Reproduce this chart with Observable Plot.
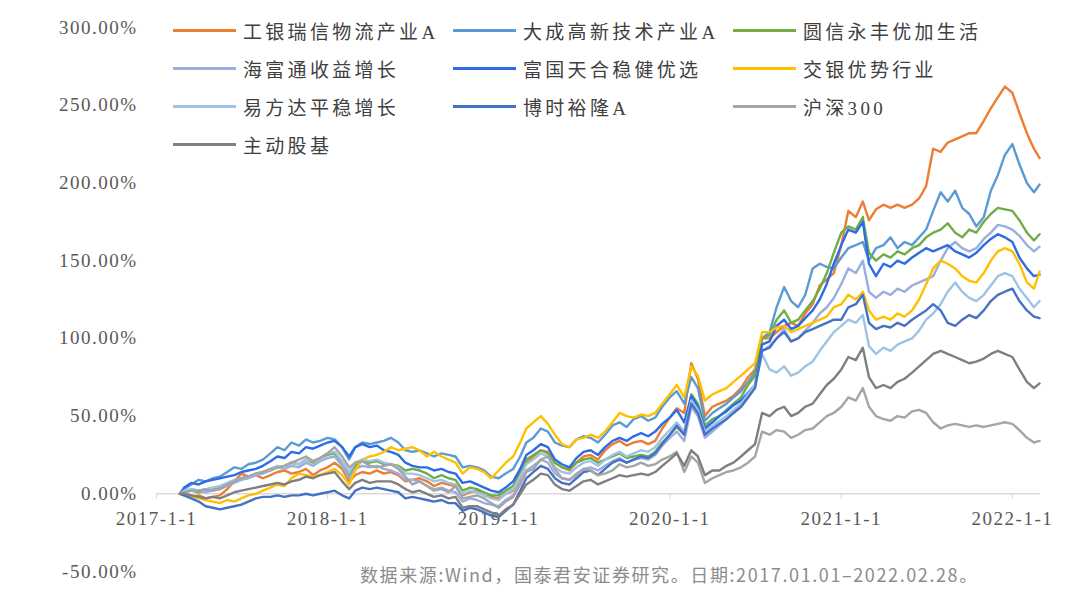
<!DOCTYPE html>
<html><head><meta charset="utf-8">
<script src="https://cdn.jsdelivr.net/npm/d3@7"></script>
<script src="https://cdn.jsdelivr.net/npm/@observablehq/plot@0.6"></script>
<style>
html,body{margin:0;padding:0;background:#fff;}
#wrap{position:relative;width:1080px;height:598px;overflow:hidden;background:#fff;}
#wrap svg{position:absolute;left:0;top:0;}
.item{position:absolute;height:22px;display:flex;align-items:center;font-family:"Liberation Serif","Noto Sans CJK SC",serif;font-size:19px;letter-spacing:3.3px;color:#404040;white-space:nowrap;}
.swatch{display:inline-block;width:63px;height:3px;margin-right:7px;flex:none;}
#caption{position:absolute;left:360px;top:561px;font-family:"Noto Sans CJK SC",sans-serif;font-size:18px;letter-spacing:1.6px;color:#8c8c8c;white-space:nowrap;}
</style></head>
<body>
<div id="wrap"><div id="caption">数据来源:Wind，国泰君安证券研究。日期:2017.01.01–2022.02.28。</div></div>
<script>
// ---- data ----
const names = ["工银瑞信物流产业A","大成高新技术产业A","圆信永丰优加生活","海富通收益增长","富国天合稳健优选","交银优势行业","易方达平稳增长","博时裕隆A","沪深300","主动股基"];
const colors = ["#ED7D31","#5B9BD5","#70AD47","#9AAEE0","#2E6BE6","#FFC000","#9DC3E6","#4472C4","#A5A5A5","#7F7F7F"];

// semi-monthly observation dates (1st and 16th), start 2017-02-20, end 2022-02-28
const dates = [new Date(Date.UTC(2017,1,20))];
for (let y = 2017; y <= 2022; y++) for (let m = 0; m < 12; m++) for (const d of [1,16]) {
  const t = Date.UTC(y,m,d);
  if (t >= Date.UTC(2017,2,1) && t <= Date.UTC(2022,1,16)) dates.push(new Date(t));
}
dates.push(new Date(Date.UTC(2022,1,28)));

// cumulative returns (%)
const gongyin = [0,-1,-2,-1,-3,-2,-1,3,8,13,11,12,10,12,14,15,13,14,16,12,15,
 17,20,16,8,12,14,13,15,13,14,12,8,9,10,8,5,7,6,5,-1,1,2,-1,-2,
 -3,0,2,10,20,24,28,27,20,17,15,20,24,25,22,28,32,34,31,33,34,32,34,42,
 49,55,52,84,74,50,56,58,60,63,68,75,80,100,100,104,108,110,108,116,122,134,138,142,
 160,182,178,188,176,183,186,184,186,184,186,190,198,222,220,226,228,230,232,232,240,248,255,262,
 258,245,232,222,216];
const dacheng = [0,3,6,9,8,10,11,14,17,16,19,20,22,26,30,28,33,31,35,33,34,
 36,35,30,22,30,33,32,33,34,36,33,28,27,28,26,24,26,25,24,17,18,17,15,11,
 10,13,16,24,33,36,42,40,33,31,30,35,37,36,33,38,44,46,43,48,50,47,49,56,
 62,66,58,75,68,47,52,55,58,62,66,72,78,100,104,120,133,124,120,128,145,148,146,145,
 152,158,160,162,150,158,160,165,158,162,160,165,170,182,194,188,195,184,180,172,178,195,205,218,
 225,212,200,194,199];
const yuanxin = [0,1,2,1,2,3,4,6,8,10,11,13,14,15,17,18,20,19,22,20,23,
 25,26,20,11,18,21,20,21,19,19,18,15,16,15,13,10,12,10,9,2,4,3,1,-1,
 -1,2,5,14,22,25,28,26,20,17,16,20,22,23,20,22,24,26,23,24,25,24,27,33,
 38,43,38,64,58,44,48,50,54,58,62,70,76,100,102,112,118,110,112,118,124,132,142,155,
 168,172,170,178,155,150,154,152,156,154,158,160,165,168,170,174,168,165,170,168,175,180,184,183,
 182,176,168,163,167];
const haifutong = [0,1,3,2,1,2,3,5,7,9,10,12,13,15,17,16,18,17,20,18,21,
 23,24,18,10,16,18,17,18,16,15,13,9,9,8,5,3,4,2,1,-5,-3,-4,-6,-7,
 -8,-4,-1,7,15,18,22,20,13,10,9,13,16,17,15,18,21,23,20,22,23,22,25,31,
 36,40,34,56,50,36,40,44,48,52,56,62,70,92,95,100,106,98,100,105,110,116,120,126,
 135,145,142,150,130,126,130,128,132,130,134,136,138,140,150,158,162,158,156,158,164,168,173,172,
 170,166,160,156,159];
const fuguo = [0,4,7,6,8,9,10,11,12,14,15,16,18,21,24,23,27,26,30,29,31,
 33,34,30,24,30,32,30,31,28,27,25,20,18,17,17,15,16,14,13,7,8,6,4,2,
 1,4,8,16,25,28,32,30,22,19,17,23,27,28,25,30,34,36,34,37,39,37,40,45,
 49,54,46,63,56,42,46,50,53,57,60,65,70,96,98,108,112,106,108,113,118,125,135,148,
 160,170,168,175,148,140,148,146,150,148,152,155,158,156,158,160,156,154,152,155,160,164,167,165,
 162,152,145,140,141];
const jiaoyin = [0,-1,-2,-3,-4,-5,-6,-4,-5,-3,-1,0,2,4,6,5,10,13,12,11,12,
 14,16,12,6,15,22,24,25,27,30,28,29,30,28,24,27,24,22,20,13,17,16,14,10,
 15,20,24,33,42,46,50,45,38,32,30,35,36,38,36,40,46,52,50,49,51,50,52,58,
 64,70,62,82,76,60,64,66,68,72,76,80,84,104,104,107,108,104,106,108,110,112,114,120,
 122,128,125,130,118,112,114,112,116,114,118,125,135,145,150,148,145,140,137,136,142,150,156,158,
 156,148,136,132,143];
const yifangda = [0,2,3,2,3,4,5,7,9,10,11,13,14,16,18,17,20,19,22,21,23,
 26,27,21,14,20,22,21,22,20,19,17,13,13,12,10,8,9,7,6,0,2,1,-1,-3,
 -4,0,3,11,19,22,26,24,17,14,13,17,20,21,18,22,25,27,24,26,28,27,30,36,
 41,46,40,60,54,40,44,47,50,54,58,64,70,90,80,78,82,76,78,82,85,92,98,104,
 108,112,110,115,95,90,94,92,96,98,100,105,112,116,122,130,136,130,126,124,128,134,140,142,
 140,132,126,120,124];
const boshi = [0,-1,-3,-5,-8,-9,-10,-9,-8,-7,-5,-3,-2,-2,-1,-2,-1,-1,0,-1,0,
 1,2,-1,-3,2,4,3,4,3,2,1,-3,-2,-3,-4,-5,-4,-6,-6,-11,-9,-10,-12,-14,
 -15,-11,-7,2,10,14,18,16,10,7,6,10,14,15,12,16,20,22,20,22,24,23,26,32,
 38,44,38,58,52,38,42,45,48,52,56,62,68,92,94,100,104,98,100,104,106,108,110,112,
 112,120,122,128,110,106,108,107,110,108,112,115,118,122,118,110,108,112,115,113,118,124,128,130,
 132,124,118,114,113];
const hs300 = [0,1,2,2,3,2,3,6,8,10,11,13,14,16,17,18,20,22,24,21,23,
 26,30,24,17,20,21,18,17,18,19,16,11,6,8,5,2,3,1,5,-3,-2,-1,-3,-6,
 -9,-5,-2,6,14,16,22,24,16,10,9,12,16,15,12,13,15,19,17,18,20,18,19,22,
 24,27,14,24,20,7,10,12,14,15,17,20,24,40,38,41,40,36,38,41,42,46,50,52,
 56,62,60,68,56,50,48,47,50,49,53,54,52,46,42,44,45,44,43,44,43,44,45,46,
 45,41,36,33,34];
const zhudong = [0,0,-1,-2,-3,-2,-3,-1,1,2,3,4,5,6,7,6,8,9,11,10,12,
 13,14,8,3,7,9,7,8,8,8,6,3,1,2,0,-2,-1,-3,-2,-9,-8,-8,-10,-12,
 -14,-10,-7,0,6,9,13,12,6,3,2,5,8,9,6,8,10,12,11,12,13,12,14,18,
 22,26,18,28,24,12,15,15,18,20,24,28,32,52,50,54,56,50,52,56,58,64,70,74,
 80,88,86,94,75,68,70,68,72,74,78,82,86,90,92,90,88,86,84,85,87,90,92,90,
 88,80,72,68,71];

const seriesValues = [gongyin, dacheng, yuanxin, haifutong, fuguo, jiaoyin, yifangda, boshi, hs300, zhudong];
const yTicks = [-50, 0, 50, 100, 150, 200, 250, 300];
const xTicks = [2017, 2018, 2019, 2020, 2021, 2022].map(y => new Date(Date.UTC(y,0,1)));
const xTickLabels = ["2017-1-1","2018-1-1","2019-1-1","2020-1-1","2021-1-1","2022-1-1"];

// ---- table for Plot ----
const rows = [];
names.forEach((n, k) => seriesValues[k].forEach((v, i) => rows.push({name: n, date: dates[i], value: v})));

const chart = Plot.plot({
  width: 1080, height: 598,
  marginLeft: 156, marginRight: 40, marginTop: 27, marginBottom: 27,
  style: {fontFamily: '"Liberation Serif", serif', fontSize: "19px", color: "#595959", background: "transparent", letterSpacing: "1.5px"},
  x: {type: "utc", domain: [new Date(Date.UTC(2017,0,1)), new Date(Date.UTC(2022,2,2))]},
  y: {domain: [-50, 300]},
  color: {domain: names, range: colors},
  marks: [
    Plot.ruleY([0], {stroke: "#d9d9d9", strokeWidth: 1.5}),
    Plot.axisY({ticks: yTicks, tickSize: 0, tickPadding: 19, tickFormat: d => d.toFixed(2) + "%", label: null, fill: "#595959"}),
    Plot.axisX({ticks: xTicks, tickFormat: d => xTickLabels[xTicks.findIndex(t => +t === +d)], tickSize: 6, tickPadding: 12, dy: -78, stroke: "#d9d9d9", fill: "#595959", label: null}),
    Plot.line(rows, {x: "date", y: "value", z: "name", stroke: "name", strokeWidth: 2.4, strokeLinejoin: "round"})
  ]
});
const wrap = document.getElementById("wrap");
wrap.insertBefore(chart, wrap.firstChild);

// legend (HTML, 3 columns x 4 rows)
const colX = [173, 453, 733];
const rowY = [30, 68, 106, 144];
names.forEach((n, k) => {
  const it = document.createElement("div");
  it.className = "item";
  it.style.left = colX[k % 3] + "px";
  it.style.top = (rowY[Math.floor(k / 3)] - 11) + "px";
  const sw = document.createElement("span");
  sw.className = "swatch";
  sw.style.background = colors[k];
  it.appendChild(sw);
  it.appendChild(document.createTextNode(n));
  wrap.appendChild(it);
});
</script>
</body></html>
